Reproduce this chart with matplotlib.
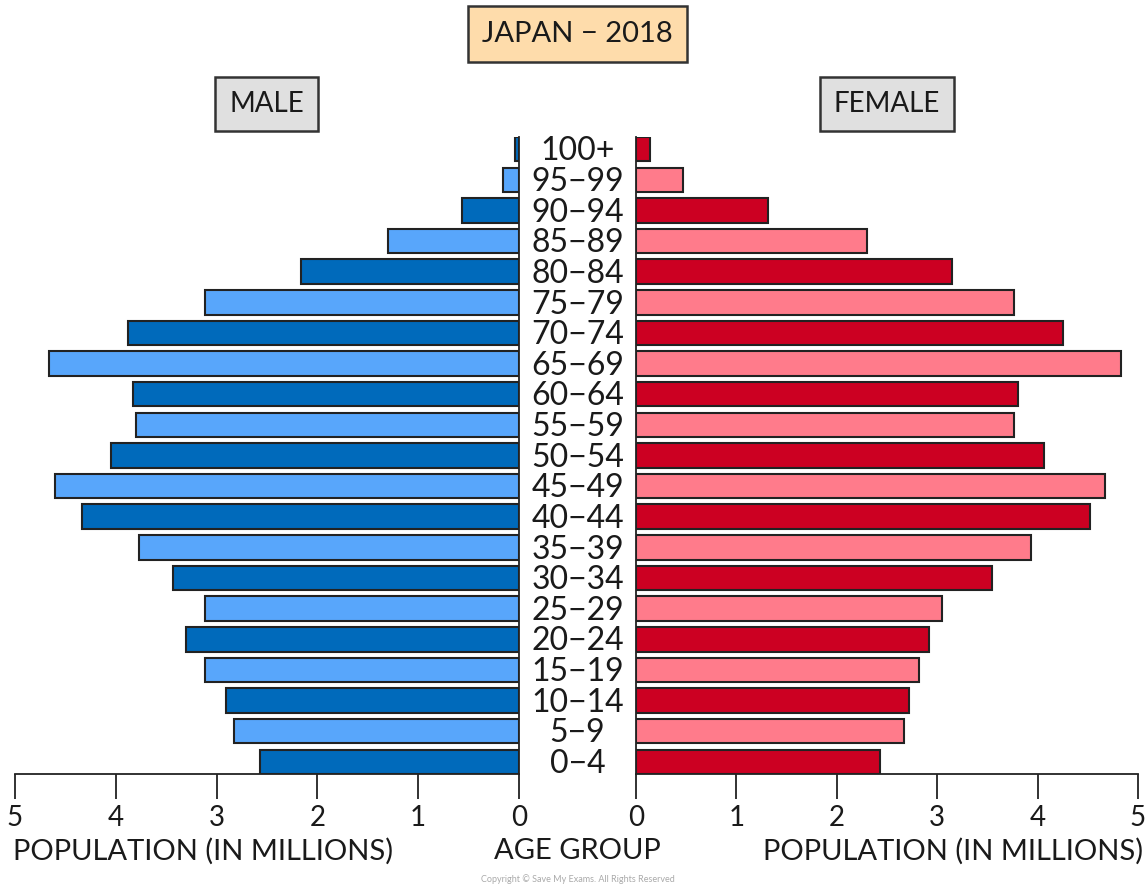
import matplotlib
matplotlib.use("Agg")
import matplotlib.pyplot as plt
from matplotlib.transforms import blended_transform_factory

age_groups = ["0-4", "5-9", "10-14", "15-19", "20-24", "25-29", "30-34", "35-39",
              "40-44", "45-49", "50-54", "55-59", "60-64", "65-69", "70-74", "75-79",
              "80-84", "85-89", "90-94", "95-99", "100+"]
male = [2.57, 2.83, 2.91, 3.12, 3.30, 3.12, 3.43, 3.77, 4.34, 4.60, 4.05, 3.80,
        3.83, 4.66, 3.88, 3.12, 2.16, 1.30, 0.57, 0.16, 0.04]
female = [2.43, 2.67, 2.72, 2.82, 2.92, 3.05, 3.55, 3.93, 4.52, 4.67, 4.06, 3.76,
          3.80, 4.83, 4.25, 3.76, 3.15, 2.30, 1.31, 0.47, 0.14]
x_ticks = [0, 1, 2, 3, 4, 5]

FONT = ["Lato", "DejaVu Sans"]
plt.rcParams['font.family'] = FONT
TXT = "#1a1a1a"

male_dark, male_light = "#006abb", "#58a6fb"
fem_dark, fem_light = "#cc0022", "#ff7b8b"

fig = plt.figure(figsize=(11.46, 8.88), dpi=100)
axL = fig.add_axes([15/1146, 1-774/888, (519-15)/1146, (774-137)/888])
axR = fig.add_axes([636/1146, 1-774/888, (1138-636)/1146, (774-137)/888])

ypos = list(range(len(age_groups)))
mcols = [male_dark if i % 2 == 0 else male_light for i in ypos]
fcols = [fem_dark if i % 2 == 0 else fem_light for i in ypos]

axL.barh(ypos, male, height=0.8, color=mcols, edgecolor="#222222", linewidth=1.5)
axR.barh(ypos, female, height=0.8, color=fcols, edgecolor="#222222", linewidth=1.5)

axL.set_xlim(5, 0)
axR.set_xlim(0, 5)
for ax in (axL, axR):
    ax.set_ylim(-0.4, 20.4)
    ax.set_yticks([])
    ax.set_xticks(x_ticks)
    ax.set_xticklabels([str(t) for t in x_ticks], fontsize=20, color=TXT)
    ax.tick_params(axis='x', length=18, width=1.3, color="#222222", pad=4)
    ax.spines['top'].set_visible(False)
    for s in ax.spines.values():
        s.set_linewidth(1.3)
        s.set_color("#222222")
    ax.set_facecolor("none")
axL.spines['left'].set_visible(False)
axR.spines['right'].set_visible(False)

fig.text(13/1146, 1-851/888, "POPULATION (IN MILLIONS)", ha="left", va="center",
         fontsize=21, color=TXT)
fig.text(1143/1146, 1-851/888, "POPULATION (IN MILLIONS)", ha="right", va="center",
         fontsize=21, color=TXT)

trans = blended_transform_factory(fig.transFigure, axL.transData)
for i, lab in enumerate(age_groups):
    fig.text(577.5/1146, i - 0.07, lab.replace("-", "\u2212"), transform=trans,
             ha="center", va="center", fontsize=23, color=TXT)

fig.text(577.5/1146, 1-851/888, "AGE GROUP", ha="center", va="center",
         fontsize=21, color=TXT)

fig.text(577.5/1146, 1-34/888, "JAPAN \u2212 2018", ha="center", va="center",
         fontsize=21, color=TXT,
         bbox=dict(boxstyle="square,pad=0.5", linewidth=1.8, edgecolor="#333333",
                   facecolor="#fedcab"))
fig.text(266.5/1146, 1-104/888, "MALE", ha="center", va="center",
         fontsize=20, color=TXT,
         bbox=dict(boxstyle="square,pad=0.5", linewidth=1.8, edgecolor="#333333",
                   facecolor="#e0e0e0"))
fig.text(887/1146, 1-104/888, "FEMALE", ha="center", va="center",
         fontsize=20, color=TXT,
         bbox=dict(boxstyle="square,pad=0.5", linewidth=1.8, edgecolor="#333333",
                   facecolor="#e0e0e0"))

fig.text(577.5/1146, 1-879/888, "Copyright \u00a9 Save My Exams. All Rights Reserved",
         ha="center", va="center", fontsize=6.5, color="#aaaaaa")

fig.savefig("out.png", dpi=100, facecolor="white")
